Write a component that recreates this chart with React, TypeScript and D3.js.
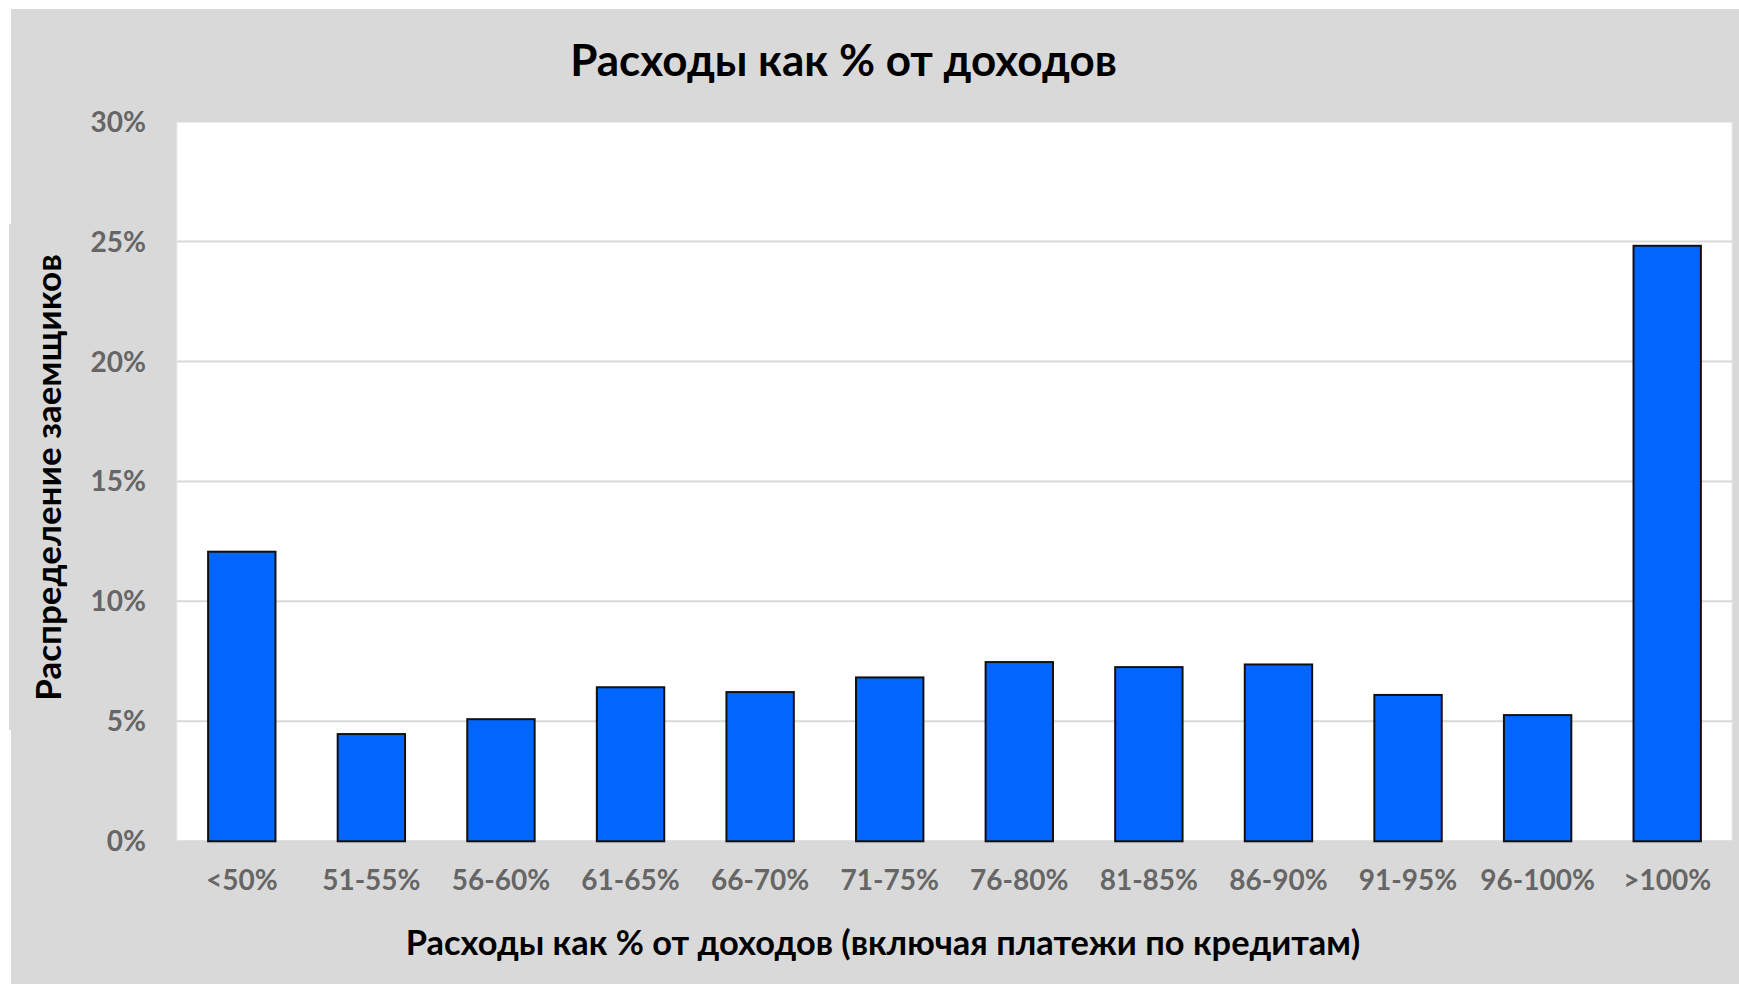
import React from "react";
import * as d3 from "d3";

const categories = ["<50%", "51-55%", "56-60%", "61-65%", "66-70%", "71-75%", "76-80%", "81-85%", "86-90%", "91-95%", "96-100%", ">100%"];
const values = [12.07, 4.47, 5.09, 6.42, 6.22, 6.83, 7.47, 7.26, 7.37, 6.1, 5.26, 24.82];
const yTicks = [0, 5, 10, 15, 20, 25, 30];
const titleText = "Расходы как % от доходов";
const xTitleText = "Расходы как % от доходов (включая платежи по кредитам)";
const yTitleText = "Распределение заемщиков";

const W = 1739;
const H = 984;
const plot = { left: 177, right: 1732, top: 121.5, bottom: 841.3 };
const FONT = "Lato, 'Open Sans', 'Noto Sans', sans-serif";

export default function App() {
  const x = d3.scaleBand<string>().domain(categories).range([plot.left, plot.right]).paddingInner(0.48).paddingOuter(0.24);
  const y = d3.scaleLinear().domain([0, 30]).range([plot.bottom, plot.top]);

  return (
    <div style={{ position: "fixed", left: 0, top: 0 }}>
      <svg width={W} height={H} style={{ display: "block" }}>
        <rect x={0} y={0} width={W} height={H} fill="#ffffff" />
        <rect x={11} y={9} width={W - 11} height={H - 9} fill="#D9D9D9" />
        <rect x={9} y={224} width={20} height={506} fill="#D9D9D9" />
        <rect x={plot.left} y={plot.top} width={plot.right - plot.left} height={plot.bottom - plot.top} fill="#ffffff" stroke="#EBEBEB" strokeWidth={1} />
        {yTicks.map((t) => (
          <line key={"g" + t} x1={plot.left} x2={plot.right} y1={y(t)} y2={y(t)} stroke="#D9D9D9" strokeWidth={2} />
        ))}
        {categories.map((c, i) => (
          <rect
            key={c}
            x={x(c)}
            y={y(values[i])}
            width={x.bandwidth()}
            height={y(0) - y(values[i])}
            fill="#0066FF"
            stroke="#111111"
            strokeWidth={2}
          />
        ))}
        {yTicks.map((t) => (
          <text key={"yt" + t} x={146} y={y(t)} dy="0.36em" textAnchor="end" fontFamily={FONT} fontWeight={700} fontSize={28} fill="#666666">
            {t + "%"}
          </text>
        ))}
        {categories.map((c) => (
          <text key={"xt" + c} x={(x(c) as number) + x.bandwidth() / 2} y={880} dy="0.36em" textAnchor="middle" fontFamily={FONT} fontWeight={700} fontSize={28} fill="#666666">
            {c}
          </text>
        ))}
        <text x={843.5} y={76} textAnchor="middle" fontFamily={FONT} fontWeight={700} fontSize={44} fill="#000000">
          {titleText}
        </text>
        <text x={883} y={955} textAnchor="middle" fontFamily={FONT} fontWeight={700} fontSize={34.4} fill="#000000">
          {xTitleText}
        </text>
        <text transform="translate(61,477.5) rotate(-90)" x={0} y={0} textAnchor="middle" fontFamily={FONT} fontWeight={700} fontSize={35} fill="#000000">
          {yTitleText}
        </text>
      </svg>
    </div>
  );
}
